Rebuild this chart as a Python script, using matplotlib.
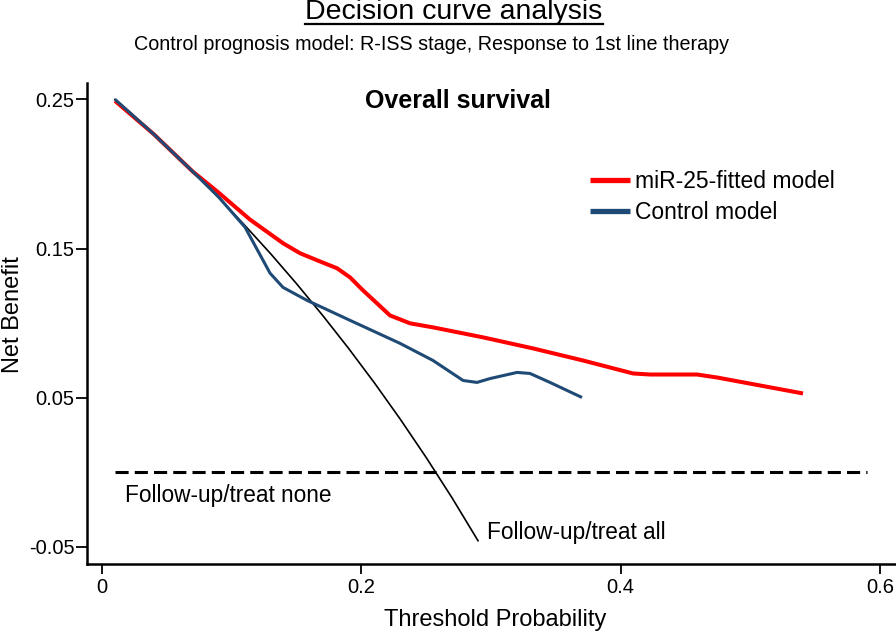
import matplotlib
matplotlib.use('Agg')
import matplotlib.pyplot as plt
from matplotlib.lines import Line2D

plt.rcParams['font.family'] = ['Liberation Sans', 'DejaVu Sans']

# Treat all curve
x_all = [0.01, 0.03, 0.05, 0.07, 0.09, 0.11, 0.13, 0.15, 0.17, 0.19, 0.21, 0.23, 0.25, 0.27, 0.29]
y_all = [0.2500, 0.2345, 0.2184, 0.2016, 0.1841, 0.1657, 0.1466, 0.1265, 0.1054, 0.0833,
         0.0601, 0.0357, 0.0100, -0.0171, -0.0458]

# miR-25-fitted model
x_mir = [0.01, 0.04, 0.07, 0.0895, 0.1142, 0.1396, 0.1527, 0.1658, 0.1813, 0.1913,
         0.2013, 0.2121, 0.2221, 0.2376, 0.2553, 0.2939, 0.3324, 0.3710, 0.4096,
         0.4227, 0.4589, 0.4744, 0.5407]
y_mir = [0.249, 0.2266, 0.2016, 0.1878, 0.1694, 0.1536, 0.1469, 0.1422, 0.1368, 0.1307,
         0.1220, 0.1133, 0.1052, 0.0999, 0.0972, 0.0905, 0.0831, 0.0750, 0.0663,
         0.0656, 0.0656, 0.0636, 0.0529]

# Control model
x_ctl = [0.01, 0.04, 0.07, 0.09, 0.1103, 0.1296, 0.1396, 0.1581, 0.1913, 0.2298,
         0.2553, 0.2785, 0.2892, 0.2993, 0.3201, 0.3301, 0.3455, 0.3702]
y_ctl = [0.250, 0.2266, 0.2016, 0.1845, 0.1643, 0.1335, 0.1240, 0.1153, 0.1019, 0.0865,
         0.0750, 0.0616, 0.0603, 0.0629, 0.0670, 0.0663, 0.0603, 0.0502]

# Treat none
x_none = [0.01, 0.59]
y_none = [0.0, 0.0]

xticks = [0, 0.2, 0.4, 0.6]
xtick_labels = ['0', '0.2', '0.4', '0.6']
yticks = [-0.05, 0.05, 0.15, 0.25]
ytick_labels = ['-0.05', '0.05', '0.15', '0.25']

fig = plt.figure(figsize=(8.96, 6.32), dpi=100)
ax = fig.add_axes([0.0971, 0.1076, 0.9029, 0.7611])

ax.plot(x_all, y_all, color='black', lw=1.2)
ax.plot(x_none, y_none, color='black', lw=2.2, dashes=(4.3, 2.0))
ax.plot(x_mir, y_mir, color='#ff0000', lw=2.9, label='miR-25-fitted model', solid_capstyle='butt')
ax.plot(x_ctl, y_ctl, color='#1f4a75', lw=2.2, label='Control model', solid_capstyle='butt')

ax.set_xlim(-0.0116, 0.6124)
ax.set_ylim(-0.0614, 0.261)
ax.set_xticks(xticks)
ax.set_xticklabels(xtick_labels)
ax.set_yticks(yticks)
ax.set_yticklabels(ytick_labels)
ax.tick_params(axis='y', direction='out', length=8, width=1.3, labelsize=14.5, pad=1)
ax.tick_params(axis='x', direction='out', length=7, width=1.3, labelsize=14.5, pad=3)

for s in ['top', 'right']:
    ax.spines[s].set_visible(False)
for s in ['left', 'bottom']:
    ax.spines[s].set_linewidth(1.8)

ax.set_xlabel('Threshold Probability', fontsize=17)
ax.xaxis.set_label_coords(0.504, -0.093)
ax.set_ylabel('Net Benefit', fontsize=17)
ax.yaxis.set_label_coords(-0.0775, 0.518)

ax.text(0.0177, -0.0201, 'Follow-up/treat none', fontsize=16.3, va='baseline', ha='left')
ax.text(0.297, -0.0444, 'Follow-up/treat all', fontsize=16.3, va='baseline', ha='left')

leg = ax.legend(loc='upper left', bbox_to_anchor=(0.6218, 0.820), frameon=False,
                fontsize=16.5, handlelength=1.75, handletextpad=0.22, labelspacing=0.38,
                borderpad=0, borderaxespad=0)
for h in leg.get_lines():
    h.set_linewidth(3.8)

fig.text(0.5106, 0.829, 'Overall survival', fontsize=18, fontweight='bold', ha='center', va='baseline')
t = fig.text(0.5067, 0.9695, 'Decision curve analysis', fontsize=20.5, ha='center', va='baseline')
fig.text(0.482, 0.921, 'Control prognosis model: R-ISS stage, Response to 1st line therapy',
         fontsize=14.2, ha='center', va='baseline')

fig.canvas.draw()
bb = t.get_window_extent().transformed(fig.transFigure.inverted())
fig.add_artist(Line2D([bb.x0, bb.x1], [0.962, 0.962],
                      color='black', lw=1.6, transform=fig.transFigure))

fig.savefig('out.png', dpi=100)
